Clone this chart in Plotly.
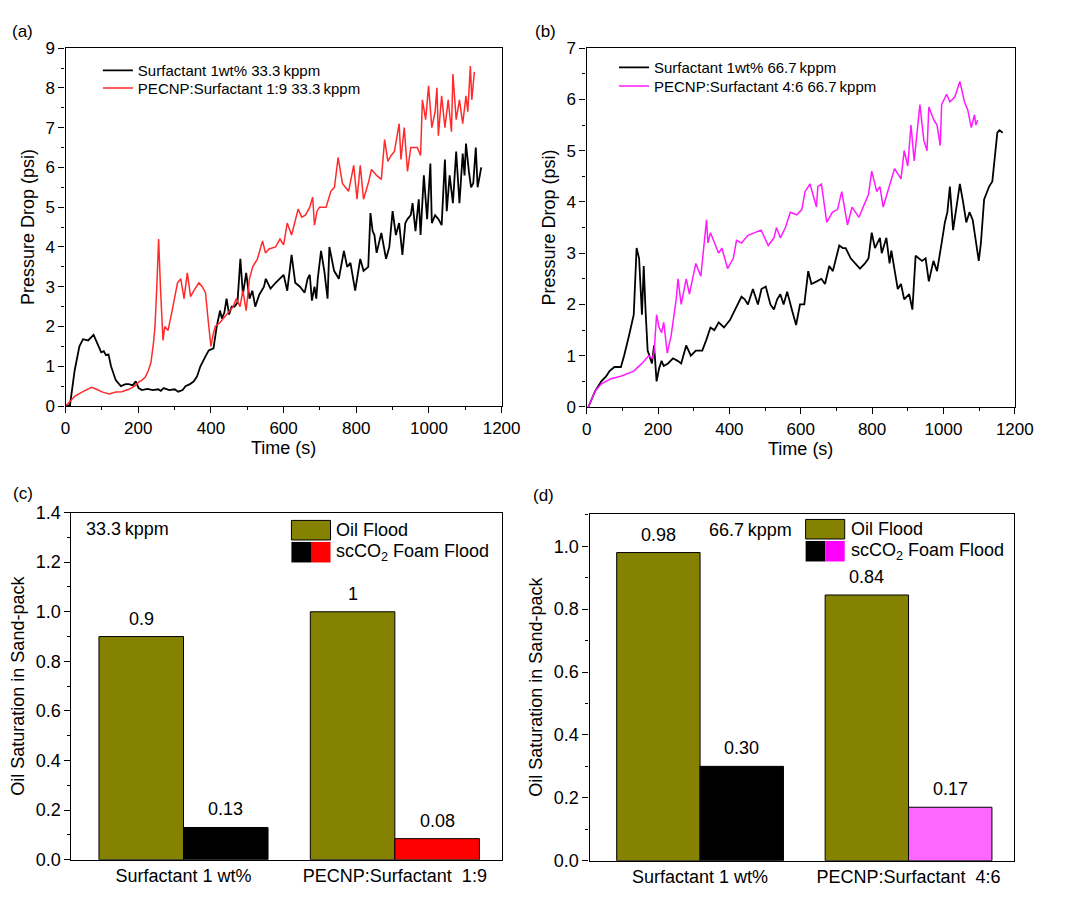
import plotly.graph_objects as go

# ---------------- data ----------------
# (a) 33.3 kppm
a_black_t = [0,12,25,38,48,62,77,88,98,105,111,118,125,138,152,165,174,185,193,201,210,225,240,255,262,270,285,300,310,322,330,342,353,362,371,385,394,407,416,425,430,437,443,450,457,465,473,481,488,497,506,514,522,533,546,551,564,578,590,600,610,622,632,645,658,666,672,678,685,690,694,703,712,721,726,739,752,766,775,784,797,811,820,833,839,845,850,856,869,876,882,891,900,909,918,927,935,941,950,955,963,972,977,986,995,1004,1008,1017,1026,1035,1044,1049,1057,1066,1075,1084,1093,1098,1102,1110,1116,1122,1129,1134,1144]
a_black_p = [0.0,0.02,0.9,1.5,1.68,1.65,1.79,1.55,1.35,1.38,1.28,1.3,1.0,0.65,0.5,0.55,0.55,0.52,0.62,0.45,0.4,0.43,0.4,0.42,0.38,0.45,0.4,0.42,0.36,0.4,0.5,0.55,0.62,0.75,1.0,1.25,1.4,1.45,2.0,2.4,2.2,2.35,2.7,2.3,2.5,2.5,2.6,3.7,2.8,3.35,2.7,2.9,2.5,2.8,3.0,3.2,2.95,3.1,3.2,3.3,2.9,3.8,3.1,3.0,2.85,3.2,3.3,2.65,3.0,2.7,3.2,3.9,3.4,2.7,4.0,3.4,3.2,3.9,3.5,3.6,2.9,3.7,3.4,3.5,4.85,4.4,4.3,3.85,4.35,4.0,3.7,4.0,4.9,4.3,4.6,3.8,4.6,4.7,4.8,5.1,4.4,5.2,4.3,5.8,4.7,6.1,4.6,4.8,4.7,4.55,6.2,4.9,5.8,5.1,6.4,5.1,6.35,5.8,6.6,5.9,5.5,5.6,6.5,5.5,6.0]
a_red_t = [0,10,26,45,71,85,102,120,138,155,174,190,201,210,219,228,235,242,246,251,256,261,268,273,282,291,300,308,317,326,335,344,353,367,376,385,393,400,406,412,425,443,452,461,470,480,488,497,506,515,528,542,550,560,578,590,600,610,622,631,640,650,660,672,680,685,692,699,717,730,740,750,762,770,779,793,802,811,820,833,842,856,869,878,887,896,905,918,923,932,941,950,968,977,982,991,999,1008,1017,1022,1026,1035,1044,1053,1062,1066,1075,1084,1093,1102,1107,1114,1118,1125]
a_red_p = [0,0.1,0.25,0.35,0.47,0.42,0.35,0.3,0.35,0.36,0.42,0.5,0.6,0.65,0.72,0.9,1.1,1.6,2.0,3.0,4.2,3.0,1.65,2.0,1.9,2.3,2.7,3.1,3.2,2.7,3.35,2.75,2.9,3.1,3.0,2.85,2.1,1.5,1.8,2.0,2.1,2.3,2.4,2.5,2.7,2.5,2.9,2.4,3.2,3.5,3.7,4.15,3.85,3.95,4.0,4.2,4.05,4.6,4.3,4.6,4.95,4.75,4.8,5.0,5.25,4.55,4.9,5.0,5.0,5.4,5.5,6.25,5.6,5.5,5.4,6.05,5.2,6.05,5.2,5.6,5.95,5.8,5.7,6.7,6.15,6.3,6.4,7.1,6.2,7.0,5.9,6.5,6.5,6.3,7.7,7.2,8.05,7.0,7.4,8.0,6.8,7.8,7.0,7.7,6.9,8.35,7.2,7.7,7.1,7.8,7.4,8.55,7.7,8.4]

# (b) 66.7 kppm
b_black_t = [5,14,23,41,55,64,78,96,105,119,132,140,147,155,160,165,171,183,189,196,203,210,216,228,242,255,265,279,292,306,324,335,347,358,370,385,402,416,434,443,452,466,480,490,502,515,525,534,543,552,562,575,587,598,610,621,630,645,658,668,680,690,708,718,726,740,753,766,780,790,799,808,822,827,840,849,854,872,881,890,904,913,922,940,950,959,972,982,995,1004,1011,1018,1027,1046,1055,1064,1073,1082,1099,1105,1114,1128,1137,1151,1157,1166]
b_black_p = [0,0.15,0.3,0.5,0.6,0.7,0.78,0.78,1.0,1.4,1.8,3.1,2.9,1.8,2.75,1.9,1.1,0.85,1.2,0.5,0.75,0.9,0.8,0.85,0.95,0.9,0.85,1.2,1.0,1.1,1.1,1.3,1.55,1.5,1.65,1.55,1.7,1.9,2.15,2.1,2.0,2.3,2.0,2.3,2.35,2.0,1.9,2.1,2.2,2.0,2.25,1.9,1.6,2.0,2.0,2.65,2.4,2.45,2.5,2.4,2.75,2.65,3.15,3.1,3.1,2.9,2.8,2.7,2.8,2.9,3.4,3.1,3.3,3.0,3.3,2.8,3.05,2.3,2.4,2.1,2.2,1.9,2.95,2.85,2.9,2.45,2.85,2.65,3.2,3.6,3.8,4.3,3.45,4.35,4.0,3.6,3.8,3.65,2.85,3.2,4.05,4.3,4.4,5.35,5.4,5.35]
b_mag_t = [5,14,23,41,68,96,132,155,174,183,189,196,203,210,216,226,237,251,256,265,279,288,306,320,336,340,347,370,379,395,411,420,434,452,470,489,509,525,532,543,557,571,589,603,612,626,644,648,658,673,689,703,715,731,744,763,790,799,813,822,831,849,863,881,890,900,909,918,934,945,954,959,973,982,991,995,1009,1018,1032,1046,1059,1068,1078,1087,1091,1096]
b_mag_p = [0,0.15,0.3,0.45,0.55,0.6,0.7,0.85,1.0,0.95,1.05,1.8,1.55,1.45,1.65,1.05,1.4,2.1,2.5,2.0,2.5,2.2,2.8,2.55,3.65,3.2,3.4,3.0,3.1,2.7,2.9,3.25,3.2,3.35,3.4,3.45,3.15,3.3,3.5,3.3,3.5,3.8,3.75,3.85,4.2,4.35,3.9,4.3,4.35,3.6,3.8,3.85,4.2,3.55,3.9,3.7,4.15,4.6,4.2,4.3,3.9,4.3,4.65,4.45,5.0,4.7,5.5,4.8,5.9,5.2,5.0,5.85,5.6,5.5,5.1,5.9,6.1,5.95,6.05,6.35,5.95,5.8,5.45,5.7,5.5,5.6]

# (c), (d) bar data
bar_cats_c = ["Surfactant 1 wt%", "PECNP:Surfactant\u00a0 1:9"]
bar_cats_d = ["Surfactant 1 wt%", "PECNP:Surfactant\u00a0 4:6"]
c_oil = [0.90, 1.00]
c_foam = [0.13, 0.085]
c_oil_lbl = ["0.9", "1"]
c_foam_lbl = ["0.13", "0.08"]
d_oil = [0.98, 0.845]
d_foam = [0.30, 0.17]
d_oil_lbl = ["0.98", "0.84"]
d_foam_lbl = ["0.30", "0.17"]

FONT = "Liberation Sans, Arial, sans-serif"
W, H = 1069, 901

def px(x):
    return x / W

def py(y):
    return 1 - y / H

OLIVE = "#848200"

fig = go.Figure()

# line traces (one legend per entry for exact placement)
fig.add_trace(go.Scatter(x=a_black_t, y=a_black_p, mode="lines", name="Surfactant 1wt% 33.3\u2009kppm",
                         line=dict(color="black", width=1.8), xaxis="x", yaxis="y", legend="legend"))
fig.add_trace(go.Scatter(x=a_red_t, y=a_red_p, mode="lines", name="PECNP:Surfactant 1:9 33.3\u2009kppm",
                         line=dict(color="#ff2a2a", width=1.5), xaxis="x", yaxis="y", legend="legend2"))
fig.add_trace(go.Scatter(x=b_black_t, y=b_black_p, mode="lines", name="Surfactant 1wt% 66.7\u2009kppm",
                         line=dict(color="black", width=1.8), xaxis="x2", yaxis="y2", legend="legend3"))
fig.add_trace(go.Scatter(x=b_mag_t, y=b_mag_p, mode="lines", name="PECNP:Surfactant 4:6 66.7\u2009kppm",
                         line=dict(color="#ff1aff", width=1.5), xaxis="x2", yaxis="y2", legend="legend4"))

# bars
fig.add_trace(go.Bar(x=bar_cats_c, y=c_oil, marker=dict(color=OLIVE, line=dict(color="black", width=1)),
                     xaxis="x3", yaxis="y3", showlegend=False, offsetgroup="oil"))
fig.add_trace(go.Bar(x=bar_cats_c, y=c_foam, marker=dict(color=["black", "#ff0000"], line=dict(color="black", width=1)),
                     xaxis="x3", yaxis="y3", showlegend=False, offsetgroup="foam"))
fig.add_trace(go.Bar(x=bar_cats_d, y=d_oil, marker=dict(color=OLIVE, line=dict(color="black", width=1)),
                     xaxis="x4", yaxis="y4", showlegend=False, offsetgroup="oil"))
fig.add_trace(go.Bar(x=bar_cats_d, y=d_foam, marker=dict(color=["black", "#ff66ff"], line=dict(color="black", width=1)),
                     xaxis="x4", yaxis="y4", showlegend=False, offsetgroup="foam"))

tickfont = dict(family=FONT, size=17, color="black")
titlefont = dict(family=FONT, size=18, color="black")
bartickfont = dict(family=FONT, size=18, color="black")
common_axis = dict(showline=True, linecolor="black", linewidth=1.3, mirror=True, ticks="outside",
                   ticklen=6, tickwidth=1.2, tickcolor="black", showgrid=False, zeroline=False)

def line_x(domain, anchor):
    return dict(common_axis, domain=domain, anchor=anchor, range=[0, 1200], dtick=200, tick0=0,
                tickfont=tickfont, title=dict(text="Time (s)", font=titlefont, standoff=2),
                minor=dict(ticks="outside", ticklen=3, dtick=100, tickcolor="black", tickwidth=1.2))

def line_y(domain, anchor, top):
    return dict(common_axis, domain=domain, anchor=anchor, range=[0, top], dtick=1, tick0=0,
                tickfont=tickfont, title=dict(text="Pressure Drop (psi)", font=titlefont, standoff=6),
                minor=dict(ticks="outside", ticklen=3, dtick=0.5, tickcolor="black", tickwidth=1.2))

def bar_x(domain, anchor):
    return dict(common_axis, domain=domain, anchor=anchor, type="category", range=[-0.53, 1.505],
                ticks="", tickfont=bartickfont)

def bar_y(domain, anchor, top, dt, mdt, fmt):
    return dict(common_axis, domain=domain, anchor=anchor, range=[0, top], dtick=dt, tick0=0, tickformat=fmt,
                tickfont=bartickfont,
                title=dict(text="Oil Saturation in Sand-pack", font=titlefont, standoff=6),
                minor=dict(ticks="outside", ticklen=3, dtick=mdt, tickcolor="black", tickwidth=1.2))

def leg(x, y):
    return dict(x=px(x), y=py(y), xanchor="left", yanchor="middle", bgcolor="rgba(0,0,0,0)",
                font=dict(family=FONT, size=15, color="black"), itemwidth=30, borderwidth=0)

fig.update_layout(
    width=W, height=H, margin=dict(l=0, r=0, t=0, b=0),
    paper_bgcolor="white", plot_bgcolor="white",
    font=dict(family=FONT, color="black"),
    barmode="group", bargap=0.2, bargroupgap=0,
    xaxis=line_x([px(62), px(508)], "y"),
    yaxis=line_y([py(405), py(39)], "x", 9),
    xaxis2=line_x([px(595), px(1033)], "y2"),
    yaxis2=line_y([py(406), py(39)], "x2", 7),
    xaxis3=bar_x([px(68), px(508)], "y3"),
    yaxis3=bar_y([py(869), py(514)], "x3", 1.4, 0.2, 0.1, ".1f"),
    xaxis4=bar_x([px(598), px(1032)], "y4"),
    yaxis4=bar_y([py(870), py(515)], "x4", 1.104, 0.2, 0.1, ".1f"),
    legend=leg(95, 62),
    legend2=leg(95, 80),
    legend3=leg(623, 59),
    legend4=leg(623, 78),
)

ann = []
# panel labels
for lbl, x, y in [("(a)", 18, 22), ("(b)", 553, 22), ("(c)", 18, 494), ("(d)", 551, 497)]:
    ann.append(dict(text=lbl, x=px(x), y=py(y), xref="paper", yref="paper", showarrow=False,
                    font=dict(family=FONT, size=17, color="black"), xanchor="center", yanchor="middle"))

# bar value labels
for xa, ya, cats, oil, foam, ol, fl in [("x3", "y3", bar_cats_c, c_oil, c_foam, c_oil_lbl, c_foam_lbl),
                                         ("x4", "y4", bar_cats_d, d_oil, d_foam, d_oil_lbl, d_foam_lbl)]:
    for i in range(len(cats)):
        ann.append(dict(text=ol[i], x=i - 0.2, y=oil[i], xref=xa, yref=ya, showarrow=False, yanchor="bottom",
                        yshift=6, font=dict(family=FONT, size=18, color="black")))
        ann.append(dict(text=fl[i], x=i + 0.2, y=foam[i], xref=xa, yref=ya, showarrow=False, yanchor="bottom",
                        yshift=6, font=dict(family=FONT, size=18, color="black")))

# concentration labels
ann.append(dict(text="33.3\u2009kppm", x=px(81), y=py(531), xref="paper", yref="paper", showarrow=False,
                xanchor="left", yanchor="middle", font=dict(family=FONT, size=18, color="black")))
ann.append(dict(text="66.7\u2009kppm", x=px(718), y=py(532), xref="paper", yref="paper", showarrow=False,
                xanchor="left", yanchor="middle", font=dict(family=FONT, size=18, color="black")))

# custom bar legends
shapes = []
def bar_legend(x0, y0, c2, tx):
    shapes.append(dict(type="rect", xref="paper", yref="paper", x0=px(x0), x1=px(x0 + 40), y0=py(y0 + 20), y1=py(y0),
                       fillcolor=OLIVE, line=dict(color="black", width=1)))
    shapes.append(dict(type="rect", xref="paper", yref="paper", x0=px(x0), x1=px(x0 + 20), y0=py(y0 + 43), y1=py(y0 + 22),
                       fillcolor="black", line=dict(width=0)))
    shapes.append(dict(type="rect", xref="paper", yref="paper", x0=px(x0 + 20), x1=px(x0 + 40), y0=py(y0 + 43), y1=py(y0 + 22),
                       fillcolor=c2, line=dict(width=0)))
    ann.append(dict(text="Oil Flood", x=px(tx), y=py(y0 + 10), xref="paper", yref="paper", showarrow=False,
                    xanchor="left", yanchor="middle", font=dict(family=FONT, size=18, color="black")))
    ann.append(dict(text="scCO<sub>2</sub> Foam Flood", x=px(tx), y=py(y0 + 33), xref="paper", yref="paper", showarrow=False,
                    xanchor="left", yanchor="middle", font=dict(family=FONT, size=18, color="black")))

bar_legend(293, 522, "#ff0000", 337)
bar_legend(819, 521, "#ff00ff", 863)

fig.update_layout(annotations=ann, shapes=shapes)

fig.write_html("out.html", config={"displayModeBar": False},
               post_script="document.body.style.margin='0';document.body.style.overflow='hidden';")
